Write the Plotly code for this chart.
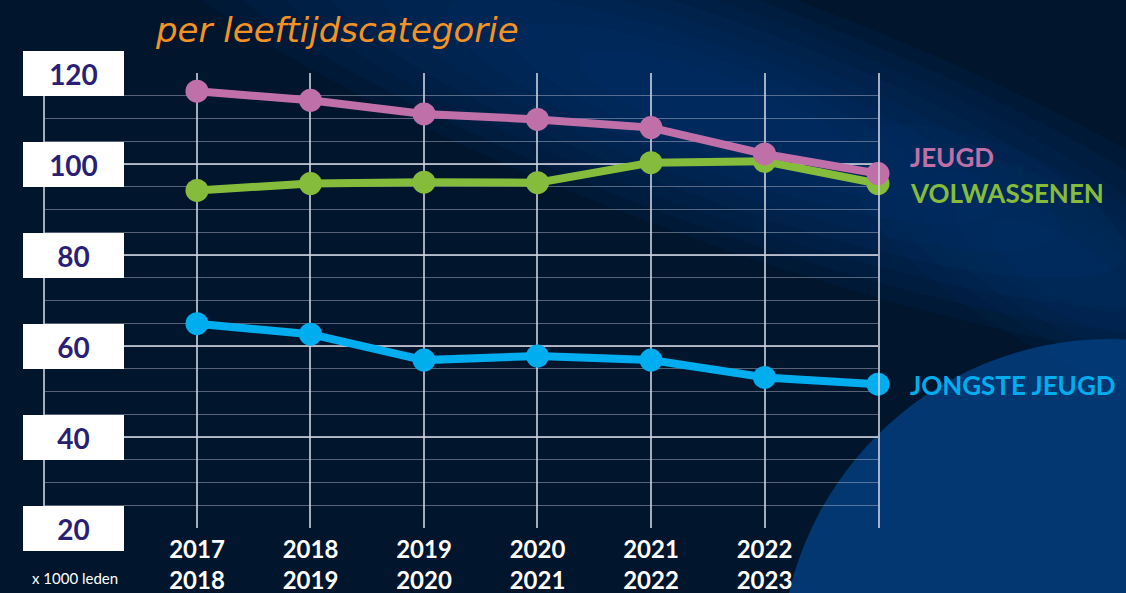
import numpy as np
import plotly.graph_objects as go

# ---------------- data ----------------
seasons = ["2017<br>2018", "2018<br>2019", "2019<br>2020", "2020<br>2021",
           "2021<br>2022", "2022<br>2023", ""]
jongste_jeugd = [64.9, 62.6, 56.9, 57.8, 56.9, 53.1, 51.6]
volwassenen = [94.2, 95.7, 96.0, 95.9, 100.3, 100.6, 95.7]
jeugd = [116.0, 114.0, 111.0, 109.8, 108.0, 102.2, 97.9]
y_ticks = [20, 40, 60, 80, 100, 120]

# ---------------- layout geometry ----------------
W, H = 1126, 593
ML, MR, MT, MB = 45, 248, 73, 65
PW, PH = W - ML - MR, H - MT - MB


def px(x):
    return (x - ML) / PW


def py(y):
    return (H - MB - y) / PH


BG = "#01152d"
x_idx = list(range(len(seasons)))

fig = go.Figure()

series = [
    ("JONGSTE JEUGD", jongste_jeugd, "#00aeef"),
    ("VOLWASSENEN", volwassenen, "#86bc3b"),
    ("JEUGD", jeugd, "#c070a8"),
]
for name, vals, col in series:
    fig.add_trace(go.Scatter(
        x=x_idx, y=vals, mode="lines+markers", name=name,
        line=dict(color=col, width=8),
        marker=dict(color=col, size=23),
        cliponaxis=False, showlegend=False, hoverinfo="skip",
    ))

shapes = []


def ellipse_path(cx, cy, a, b, ang_deg, n=60):
    t = np.linspace(0, 2 * np.pi, n)
    ang = np.deg2rad(ang_deg)
    xs = cx + a * np.cos(t) * np.cos(ang) - b * np.sin(t) * np.sin(ang)
    ys = cy + a * np.cos(t) * np.sin(ang) + b * np.sin(t) * np.cos(ang)
    pts = [f"{px(x):.4f},{py(y):.4f}" for x, y in zip(xs, ys)]
    return "M" + " L".join(pts) + " Z"


# soft blue glow band (decorative background)
for k in range(8):
    f = 1 - k / 8
    shapes.append(dict(type="path", xref="paper", yref="paper",
                       path=ellipse_path(720, 110, 560 * f + 80, 110 * f + 20, 20),
                       fillcolor="rgba(0,60,125,0.12)", line=dict(width=0),
                       layer="below"))
for k in range(5):
    f = 1 - k / 5
    shapes.append(dict(type="path", xref="paper", yref="paper",
                       path=ellipse_path(1060, 265, 200 * f + 40, 70 * f + 15, 30),
                       fillcolor="rgba(0,60,125,0.08)", line=dict(width=0),
                       layer="below"))
# planet (decorative)
cx, cy, r = 1110, 669, 330
shapes.append(dict(type="circle", xref="paper", yref="paper",
                   x0=px(cx - r), x1=px(cx + r), y0=py(cy + r), y1=py(cy - r),
                   fillcolor="rgba(2,60,124,0.88)", line=dict(width=0),
                   layer="below"))

annotations = []
# y tick label boxes
for v in y_ticks:
    annotations.append(dict(
        xref="paper", yref="y", x=px(73.5), y=v, text=f"<b>{v}</b>",
        showarrow=False, bgcolor="white", width=101, height=45, borderpad=0,
        borderwidth=0, xanchor="center", yanchor="middle",
        font=dict(family="Lato", size=28, color="#2a1f74"),
    ))
annotations.append(dict(
    xref="paper", yref="paper", x=px(75), y=py(578), text="x 1000 leden",
    showarrow=False, xanchor="center", yanchor="middle",
    font=dict(family="Lato", size=15, color="white"),
))
annotations.append(dict(
    xref="paper", yref="paper", x=px(153), y=py(30),
    text="<i>per leeftijdscategorie</i>",
    showarrow=False, xanchor="left", yanchor="middle",
    font=dict(family="DejaVu Sans", size=34, color="#f39325"),
))
label_pos = {"JEUGD": 157, "VOLWASSENEN": 193, "JONGSTE JEUGD": 385}
for name, vals, col in series:
    annotations.append(dict(
        xref="paper", yref="paper", x=px(908), y=py(label_pos[name]),
        text=f"<b>{name}</b>", showarrow=False, xanchor="left",
        yanchor="middle",
        font=dict(family="Lato", size=26, color=col),
    ))

GRID = "rgba(205,210,222,0.8)"
fig.update_layout(
    width=W, height=H,
    margin=dict(l=ML, r=MR, t=MT, b=MB, autoexpand=False),
    paper_bgcolor=BG, plot_bgcolor="rgba(0,0,0,0)",
    shapes=shapes, annotations=annotations,
    xaxis=dict(
        range=[-1.339, 6], tickvals=x_idx, ticktext=seasons,
        showgrid=True, gridcolor=GRID, gridwidth=2,
        zeroline=False, showline=False, ticks="",
        ticklabelstandoff=5, automargin=False,
        tickfont=dict(family="Lato", size=24, color="white", weight="bold"),
        fixedrange=True,
    ),
    yaxis=dict(
        range=[20, 120], tickvals=y_ticks, showticklabels=False,
        showgrid=True, gridcolor=GRID, gridwidth=2,
        minor=dict(dtick=5, tick0=0, showgrid=True,
                   gridcolor="rgba(190,195,210,0.45)", gridwidth=1),
        zeroline=False, showline=True, linecolor=GRID, linewidth=2,
        mirror=True, ticks="", fixedrange=True, automargin=False,
    ),
    font=dict(family="Lato"),
)

fig.write_html("out.html",
               config={"displayModeBar": False, "staticPlot": True},
               post_script="document.body.style.margin='0';"
                           "document.body.style.overflow='hidden';")
